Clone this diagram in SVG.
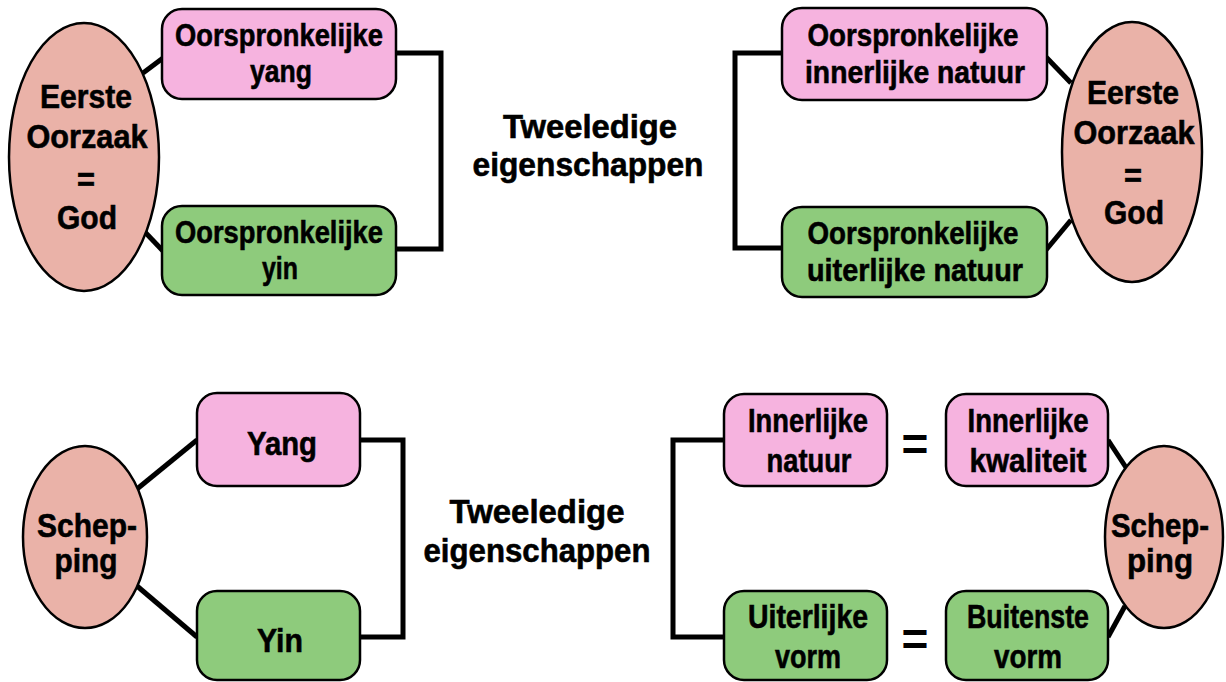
<svg xmlns="http://www.w3.org/2000/svg" width="1226" height="682" viewBox="0 0 1226 682">
<style>
.bg{fill:#ffffff}
.pink{fill:#F6B3DF;stroke:#000;stroke-width:2.5}
.green{fill:#8ECB7C;stroke:#000;stroke-width:2.5}
.ell{fill:#EAB2A8;stroke:#000;stroke-width:2.5}
.conn{fill:none;stroke:#000;stroke-width:5;stroke-linejoin:miter}
text{font-family:"Liberation Sans","DejaVu Sans",Arial,sans-serif;font-weight:bold;font-size:34px;fill:#000;stroke:#000;stroke-width:0.6;text-anchor:middle}
.box2{font-size:32px}
.eq{font-size:46px;stroke-width:0}
</style>
<rect class="bg" x="0" y="0" width="1226" height="682"/>

<g id="connectors">
  <line class="conn" x1="143" y1="73" x2="163" y2="58"/>
  <line class="conn" x1="143" y1="230" x2="163" y2="251"/>
  <polyline class="conn" points="396,53 441,53 441,249 396,249"/>
  <line class="conn" x1="1046" y1="57" x2="1071" y2="83"/>
  <line class="conn" x1="1046" y1="250" x2="1071" y2="220"/>
  <polyline class="conn" points="783,53 735,53 735,248 783,248"/>
  <line class="conn" x1="137" y1="489" x2="197" y2="440"/>
  <line class="conn" x1="137" y1="586" x2="197" y2="637"/>
  <polyline class="conn" points="360,440 403,440 403,637 360,637"/>
  <polyline class="conn" points="724,440 673,440 673,637 724,637"/>
  <line class="conn" x1="1108" y1="440" x2="1127" y2="469"/>
  <line class="conn" x1="1108" y1="637" x2="1125" y2="606"/>
</g>

<g id="god-left">
  <ellipse class="ell" cx="84" cy="157" rx="75" ry="134"/>
  <text x="86" y="108" textLength="92" lengthAdjust="spacingAndGlyphs">Eerste</text>
  <text x="87" y="148" textLength="121" lengthAdjust="spacingAndGlyphs">Oorzaak</text>
  <text x="86" y="191" textLength="18" lengthAdjust="spacingAndGlyphs">=</text>
  <text x="87" y="229" textLength="60" lengthAdjust="spacingAndGlyphs">God</text>
</g>
<g id="yang-orig">
  <rect class="pink" x="162" y="9" width="234" height="90" rx="20"/>
  <text class="box2" x="279" y="46" textLength="208" lengthAdjust="spacingAndGlyphs">Oorspronkelijke</text>
  <text class="box2" x="281" y="82" textLength="62" lengthAdjust="spacingAndGlyphs">yang</text>
</g>
<g id="yin-orig">
  <rect class="green" x="162" y="206" width="234" height="89" rx="20"/>
  <text class="box2" x="279" y="243" textLength="208" lengthAdjust="spacingAndGlyphs">Oorspronkelijke</text>
  <text class="box2" x="280" y="279" textLength="36" lengthAdjust="spacingAndGlyphs">yin</text>
</g>
<g id="title-top">
  <text x="590" y="138" textLength="174" lengthAdjust="spacingAndGlyphs">Tweeledige</text>
  <text x="588" y="176" textLength="231" lengthAdjust="spacingAndGlyphs">eigenschappen</text>
</g>
<g id="inner-orig">
  <rect class="pink" x="782" y="8" width="265" height="92" rx="20"/>
  <text class="box2" x="913" y="46" textLength="211" lengthAdjust="spacingAndGlyphs">Oorspronkelijke</text>
  <text class="box2" x="915" y="83" textLength="220" lengthAdjust="spacingAndGlyphs">innerlijke natuur</text>
</g>
<g id="outer-orig">
  <rect class="green" x="782" y="207" width="265" height="90" rx="20"/>
  <text class="box2" x="913" y="244" textLength="211" lengthAdjust="spacingAndGlyphs">Oorspronkelijke</text>
  <text class="box2" x="915" y="281" textLength="216" lengthAdjust="spacingAndGlyphs">uiterlijke natuur</text>
</g>
<g id="god-right">
  <ellipse class="ell" cx="1132" cy="152" rx="70" ry="130"/>
  <text x="1133" y="104" textLength="92" lengthAdjust="spacingAndGlyphs">Eerste</text>
  <text x="1134" y="144" textLength="121" lengthAdjust="spacingAndGlyphs">Oorzaak</text>
  <text x="1133" y="187" textLength="18" lengthAdjust="spacingAndGlyphs">=</text>
  <text x="1134" y="224" textLength="60" lengthAdjust="spacingAndGlyphs">God</text>
</g>

<g id="schepping-left">
  <ellipse class="ell" cx="85" cy="537" rx="62" ry="91"/>
  <text x="87" y="537" textLength="100" lengthAdjust="spacingAndGlyphs">Schep-</text>
  <text x="86" y="572" textLength="63" lengthAdjust="spacingAndGlyphs">ping</text>
</g>
<g id="yang">
  <rect class="pink" x="197" y="393" width="163" height="93" rx="20"/>
  <text x="282" y="455" textLength="70" lengthAdjust="spacingAndGlyphs">Yang</text>
</g>
<g id="yin">
  <rect class="green" x="197" y="591" width="163" height="89" rx="20"/>
  <text x="280" y="652" textLength="46" lengthAdjust="spacingAndGlyphs">Yin</text>
</g>
<g id="title-bottom">
  <text x="537" y="523" textLength="175" lengthAdjust="spacingAndGlyphs">Tweeledige</text>
  <text x="537" y="562" textLength="227" lengthAdjust="spacingAndGlyphs">eigenschappen</text>
</g>
<g id="inner-nature">
  <rect class="pink" x="724" y="394" width="163" height="92" rx="20"/>
  <text x="808" y="432" textLength="120" lengthAdjust="spacingAndGlyphs">Innerlijke</text>
  <text x="809" y="472" textLength="85" lengthAdjust="spacingAndGlyphs">natuur</text>
</g>
<g id="eq-top">
  <text class="eq" x="915" y="460">=</text>
</g>
<g id="inner-quality">
  <rect class="pink" x="946" y="394" width="162" height="92" rx="20"/>
  <text x="1028" y="432" textLength="121" lengthAdjust="spacingAndGlyphs">Innerlijke</text>
  <text x="1028" y="472" textLength="117" lengthAdjust="spacingAndGlyphs">kwaliteit</text>
</g>
<g id="outer-form">
  <rect class="green" x="724" y="591" width="163" height="89" rx="20"/>
  <text x="808" y="628" textLength="120" lengthAdjust="spacingAndGlyphs">Uiterlijke</text>
  <text x="808" y="668" textLength="66" lengthAdjust="spacingAndGlyphs">vorm</text>
</g>
<g id="eq-bottom">
  <text class="eq" x="915" y="655">=</text>
</g>
<g id="outer-most">
  <rect class="green" x="946" y="591" width="162" height="89" rx="20"/>
  <text x="1028" y="628" textLength="122" lengthAdjust="spacingAndGlyphs">Buitenste</text>
  <text x="1028" y="668" textLength="68" lengthAdjust="spacingAndGlyphs">vorm</text>
</g>
<g id="schepping-right">
  <ellipse class="ell" cx="1164" cy="537" rx="59" ry="91"/>
  <text x="1160" y="537" textLength="98" lengthAdjust="spacingAndGlyphs">Schep-</text>
  <text x="1160" y="572" textLength="66" lengthAdjust="spacingAndGlyphs">ping</text>
</g>
</svg>
